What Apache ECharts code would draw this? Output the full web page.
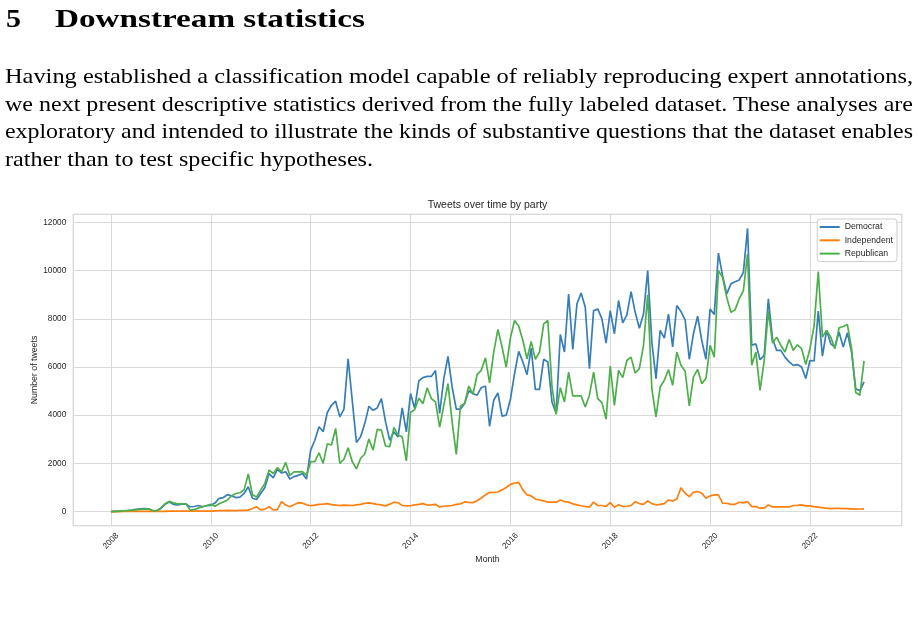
<!DOCTYPE html>
<html>
<head>
<meta charset="utf-8">
<script src="https://cdn.jsdelivr.net/npm/echarts@6/dist/echarts.min.js"></script>
<style>
  html, body { margin: 0; padding: 0; background: #fff; }
  #page { position: relative; width: 918px; height: 631px; overflow: hidden; }
  #chart { position: absolute; left: 0; top: 0; width: 918px; height: 631px; }
  #doc { position: absolute; left: 0; top: 0; pointer-events: none; font-family: 'Liberation Serif', serif; }
</style>
</head>
<body>
<div id="page">
  <div id="chart"></div>
  <svg id="doc" width="918" height="190" fill="#000">
    <text x="6" y="27" font-size="25" font-weight="bold" textLength="15" lengthAdjust="spacingAndGlyphs">5</text>
    <text x="55" y="27" font-size="25" font-weight="bold" textLength="310" lengthAdjust="spacingAndGlyphs">Downstream statistics</text>
    <text x="5" y="82.8" font-size="22" textLength="908" lengthAdjust="spacingAndGlyphs">Having established a classification model capable of reliably reproducing expert annotations,</text>
    <text x="5" y="110.5" font-size="22" textLength="908" lengthAdjust="spacingAndGlyphs">we next present descriptive statistics derived from the fully labeled dataset. These analyses are</text>
    <text x="5" y="138.2" font-size="22" textLength="908" lengthAdjust="spacingAndGlyphs">exploratory and intended to illustrate the kinds of substantive questions that the dataset enables</text>
    <text x="5" y="165.9" font-size="22" textLength="368" lengthAdjust="spacingAndGlyphs">rather than to test specific hypotheses.</text>
  </svg>
</div>
<script>
// monthly tweet counts, Jan 2008 .. Feb 2023
const startYear = 2008;
const seriesNames = ['Democrat', 'Independent', 'Republican'];
const dem = [
  0, 10, 20, 30, 40, 60, 90, 110, 120, 110, 40, 30,
  130, 300, 400, 300, 280, 310, 310, 200, 210, 250, 200, 240,
  260, 350, 550, 580, 700, 650, 580, 600, 750, 1030, 550, 500,
  750, 1000, 1580, 1400, 1750, 1600, 1650, 1350, 1450, 1500, 1580, 1350,
  2550, 2960, 3520, 3310, 4110, 4410, 4580, 3930, 4250, 6340, 4600, 2870,
  3100, 3650, 4370, 4200, 4300, 4690, 3720, 2960, 3310, 3100, 4300, 3310,
  4900, 4280, 5420, 5560, 5610, 5610, 5850, 4070, 5520, 6440, 5170, 4250,
  4250, 4480, 5010, 4900, 4830, 5140, 5210, 3540, 4620, 4920, 3960, 4000,
  4650, 5720, 6650, 6210, 5680, 6780, 5070, 5070, 6320, 6210, 4550, 4070,
  7350, 6620, 9030, 6730, 8620, 9070, 8480, 5930, 8340, 8410, 8000, 6990,
  8340, 7380, 8760, 7830, 8160, 9130, 8270, 7610, 8200, 10000, 7030, 5520,
  7520, 7200, 8190, 6830, 8550, 8300, 7960, 6320, 7380, 8110, 7100, 6320,
  8410, 8180, 10730, 9790, 9030, 9450, 9540, 9610, 9930, 11750, 6900, 6960,
  6300, 6480, 8830, 7170, 6690, 6690, 6410, 6210, 6070, 6100, 6000, 5520,
  6270, 6250, 8320, 6450, 7520, 6960, 6830, 7450, 6830, 7420, 6620, 5100,
  5010, 5380
];
const ind = [
  0, 0, 0, 5, 5, 10, 10, 10, 10, 10, 10, 10,
  10, 10, 15, 15, 15, 15, 15, 15, 15, 20, 20, 20,
  20, 30, 40, 40, 50, 40, 40, 50, 50, 60, 130, 200,
  70, 100, 200, 70, 80, 410, 270, 200, 280, 370, 350, 280,
  240, 270, 300, 310, 330, 290, 270, 250, 270, 260, 250, 280,
  300, 340, 360, 330, 300, 275, 235, 300, 386, 370, 250, 235,
  240, 275, 300, 330, 270, 280, 300, 190, 220, 235, 250, 300,
  320, 400, 380, 370, 450, 560, 690, 800, 790, 810, 900, 1000,
  1130, 1180, 1210, 900, 690, 650, 520, 480, 440, 390, 390, 390,
  480, 410, 390, 320, 280, 240, 210, 180, 390, 250, 250, 210,
  370, 180, 280, 210, 220, 250, 410, 330, 300, 440, 330, 280,
  300, 330, 480, 440, 520, 990, 760, 620, 800, 830, 760, 550,
  650, 690, 690, 345, 345, 300, 300, 386, 360, 414, 207, 207,
  140, 140, 275, 190, 190, 190, 190, 190, 250, 260, 275, 235,
  235, 207, 180, 165, 140, 125, 130, 130, 125, 120, 110, 97,
  105, 110
];
const rep = [
  0, 10, 20, 30, 40, 50, 70, 90, 100, 110, 40, 30,
  150, 320, 420, 360, 320, 320, 320, 70, 80, 140, 200, 250,
  300, 220, 320, 400, 480, 650, 750, 780, 900, 1560, 700, 600,
  900, 1170, 1720, 1580, 1820, 1650, 2040, 1500, 1650, 1650, 1660, 1500,
  2070, 2070, 2440, 2000, 2810, 2760, 3450, 2000, 2170, 2650, 2070, 1770,
  2200, 2390, 3010, 2550, 3410, 3380, 2720, 2690, 3490, 3170, 3100, 2100,
  4110, 4230, 4700, 4480, 5140, 4690, 4550, 3500, 4410, 5310, 3720, 2370,
  4380, 4480, 5210, 4870, 5680, 5860, 6380, 5340, 6620, 7560, 6830, 5990,
  7200, 7930, 7700, 7100, 6340, 7060, 6320, 6620, 7790, 7930, 5170, 4030,
  5140, 4550, 5790, 4800, 4800, 4800, 4340, 4830, 5790, 4690, 4520, 3830,
  6040, 4410, 5860, 5560, 6270, 6410, 5750, 5930, 6900, 9000, 5100, 3930,
  5170, 5450, 5890, 5240, 6620, 6070, 5820, 4380, 5590, 5900, 5310, 5520,
  6900, 6410, 10000, 9720, 8890, 8270, 8370, 8830, 9170, 10690, 6070, 6620,
  5030, 6250, 8340, 6990, 7240, 6900, 6620, 7140, 6690, 6920, 6760, 6100,
  6760, 7720, 9960, 7240, 7520, 7240, 6760, 7630, 7680, 7760, 6760, 4940,
  4830, 6250
];
const colors = ['#377eb8', '#ff7f0e', '#4daf4a'];

const months = dem.map((_, i) => startYear + i / 12);

// matplotlib style 5% autoscale margins
const xPad = (months[months.length - 1] - months[0]) * 0.05;
const allVals = dem.concat(ind, rep);
const yLo = Math.min(...allVals), yHi = Math.max(...allVals);
const yPad = (yHi - yLo) * 0.05;

const font = "'Liberation Sans', Arial, sans-serif";
const ink = '#262626';
const isWhole = v => Math.abs(v - Math.round(v)) < 1e-6;

const chart = echarts.init(document.getElementById('chart'), null, { renderer: 'canvas' });
chart.setOption({
  animation: false,
  color: colors,
  title: {
    text: 'Tweets over time by party',
    left: 487.5, top: 200, textAlign: 'center', padding: 0,
    textStyle: { fontFamily: font, fontSize: 10.5, fontWeight: 'normal', color: ink }
  },
  legend: {
    data: seriesNames,
    orient: 'vertical', right: 21, top: 219,
    icon: 'rect', itemWidth: 20, itemHeight: 2, itemGap: 3.3,
    padding: [3, 4, 3, 2.5],
    backgroundColor: 'rgba(255,255,255,0.8)',
    borderColor: '#cccccc', borderWidth: 1, borderRadius: 3,
    textStyle: { fontFamily: font, fontSize: 8.7, color: ink, lineHeight: 10 }
  },
  grid: {
    left: 73.3, right: 16.3, top: 214.3, bottom: 105.3,
    show: true, borderColor: '#cccccc', borderWidth: 1.2
  },
  xAxis: {
    type: 'value',
    min: months[0] - xPad, max: months[months.length - 1] + xPad,
    splitNumber: 8,
    name: 'Month', nameLocation: 'middle', nameGap: 29, nameMoveOverlap: false,
    nameTextStyle: { fontFamily: font, fontSize: 8.75, color: ink },
    axisLine: { show: false, onZero: false },
    axisTick: { show: false },
    axisLabel: {
      rotate: 45, align: 'center', verticalAlign: 'middle', margin: 15.3,
      fontFamily: font, fontSize: 8.3, color: ink,
      showMinLabel: false, showMaxLabel: false,
      formatter: v => isWhole(v) ? String(Math.round(v)) : ''
    },
    splitLine: { show: true, lineStyle: { color: '#dadada', width: 1 } }
  },
  yAxis: {
    type: 'value',
    min: yLo - yPad, max: yHi + yPad,
    splitNumber: 6,
    name: 'Number of tweets', nameLocation: 'middle', nameGap: 34, nameRotate: 90,
    nameMoveOverlap: false,
    nameTextStyle: { fontFamily: font, fontSize: 8.75, color: ink },
    axisLine: { show: false, onZero: false },
    axisTick: { show: false },
    axisLabel: {
      margin: 7, fontFamily: font, fontSize: 8.3, color: ink,
      showMinLabel: false, showMaxLabel: false,
      formatter: v => (v % 1000 === 0) ? String(v) : ''
    },
    splitLine: { show: true, lineStyle: { color: '#dadada', width: 1 } }
  },
  series: [dem, ind, rep].map((vals, k) => ({
    name: seriesNames[k],
    type: 'line',
    data: vals.map((v, i) => [months[i], v]),
    symbol: 'none',
    lineStyle: { width: 1.7, color: colors[k] },
    itemStyle: { color: colors[k] }
  }))
});
</script>
</body>
</html>
